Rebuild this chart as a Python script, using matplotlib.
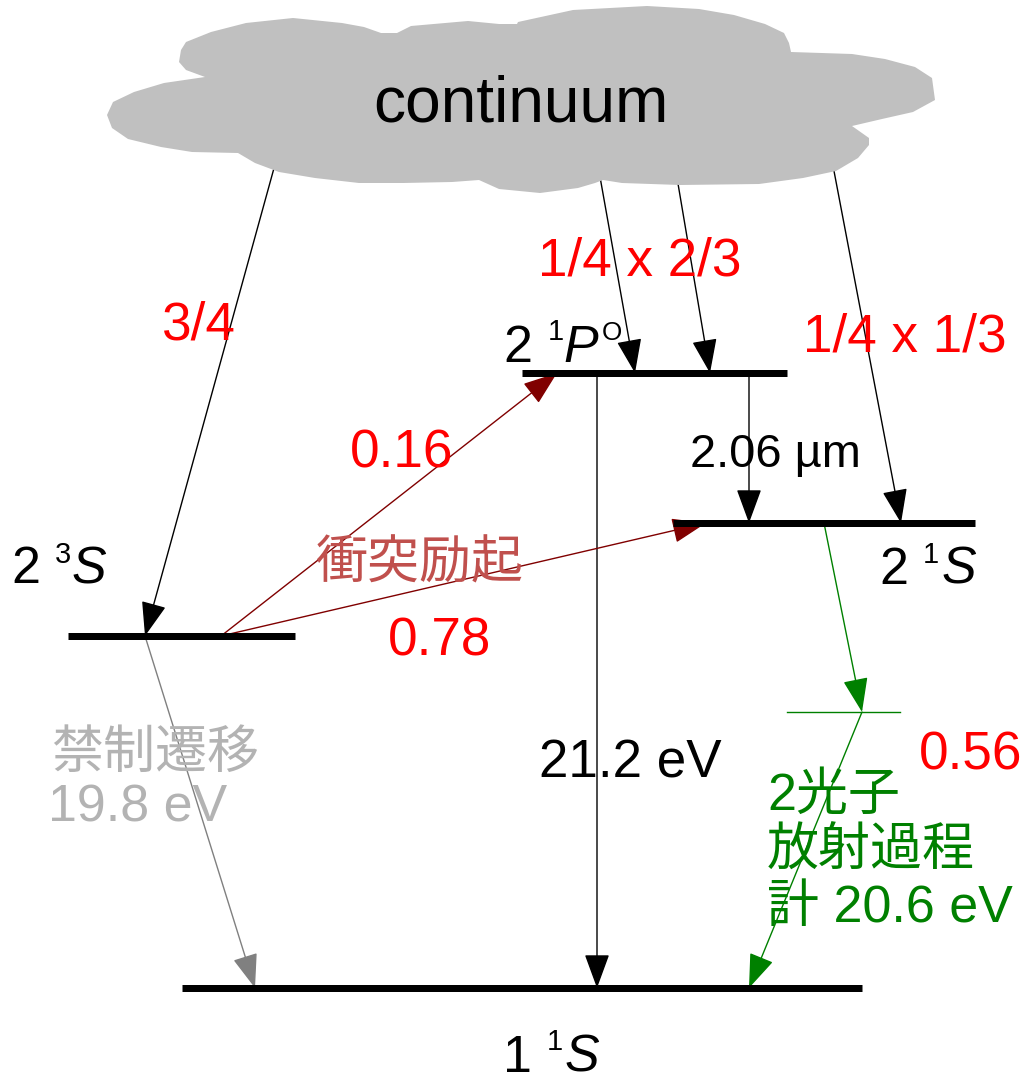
import matplotlib
matplotlib.use("Agg")
import matplotlib.pyplot as plt
from matplotlib.patches import Polygon

W, H, DPI = 1024, 1083, 100
PX = 72.0 / DPI  # points per pixel

LATIN = "Liberation Sans"
FAMILY = [LATIN, "Noto Sans CJK JP", "DejaVu Sans"]

# ---- energy levels (name, y, x-start, x-end) ----
level_keys = ["2_1P", "2_1S", "2_3S", "1_1S"]
level_y = [373, 523, 636, 988]
level_x0 = [522, 673, 68, 182]
level_x1 = [787, 975, 295, 862]
LV = {k: (y, a, b) for k, y, a, b in zip(level_keys, level_y, level_x0, level_x1)}

# virtual intermediate level of the two-photon decay
virtual_y = 712
virtual_x = (787, 900)

# ---- continuum cloud outline ----
cloud_x = [186, 211, 246, 293, 342, 364, 381, 397, 411, 468, 499, 517, 518, 573,
           647, 699, 734, 765, 784, 789, 791, 852, 885, 915, 932, 935, 913, 882,
           852, 869, 869, 858, 836, 803, 759, 680, 622, 603, 595, 578, 540, 499,
           479, 452, 403, 359, 315, 279, 255, 238, 192, 161, 128, 112, 107, 113,
           134, 164, 205, 186, 179, 181]
cloud_y = [42, 32, 23, 18, 23, 27, 33, 33, 26, 21, 24, 24, 22, 10,
           6, 9, 15, 24, 33, 43, 52, 54, 59, 67, 78, 100, 112, 119,
           126, 138, 145, 158, 171, 178, 184, 185, 183, 180, 183, 188, 193, 189,
           180, 182, 183, 183, 178, 172, 163, 153, 152, 147, 139, 128, 115, 102,
           92, 83, 77, 70, 62, 50]

# ---- transitions: (start x, start y, end x, end y, colour) ----
transitions = [
    (279, 150, 145, 636, "black"),     # continuum -> 2 3S
    (597, 160, 635, 373, "black"),     # continuum -> 2 1P
    (674, 160, 710, 373, "black"),     # continuum -> 2 1P
    (830, 150, 901, 523, "black"),     # continuum -> 2 1S
    (749, 373, 749, 523, "black"),     # 2 1P -> 2 1S (2.06 um)
    (597, 373, 597, 988, "black"),     # 2 1P -> 1 1S (21.2 eV)
    (145, 636, 255, 988, "#808080"),   # 2 3S -> 1 1S forbidden
    (221, 636, 557, 373, "#800000"),   # 2 3S -> 2 1P collisional
    (221, 636, 706, 523, "#800000"),   # 2 3S -> 2 1S collisional
    (824, 523, 862, virtual_y, "#008000"),  # 2 1S -> virtual
    (862, virtual_y, 749, 988, "#008000"),  # virtual -> 1 1S
]

# ---- labels: (text, x, baseline y, size px, colour) ----
labels = [
    ("continuum", 373, 122, 64, "black"),
    ("3/4", 162, 340, 53, "red"),
    ("1/4 x 2/3", 538, 276, 53, "red"),
    ("1/4 x 1/3", 803, 352, 53, "red"),
    ("0.16", 350, 468, 53, "red"),
    ("0.78", 388, 655, 53, "red"),
    ("0.56", 919, 770, 53, "red"),
    ("2.06 µm", 690, 467, 47, "black"),
    ("21.2 eV", 539, 778, 53, "black"),
    ("衝突励起", 315, 578, 52, "#c0504d"),
    ("禁制遷移", 51, 768, 52, "#b3b3b3"),
    ("19.8 eV", 48, 822, 52, "#b3b3b3"),
    ("2光子", 767, 810, 52, "#008000"),
    ("放射過程", 767, 866, 52, "#008000"),
    ("計 20.6 eV", 767, 922, 52, "#008000"),
]

# ---- term symbols: (text, x, baseline y, size px, italic) ----
term_parts = [
    ("2", 503, 362, 52, False), ("1", 548, 340, 29, False),
    ("P", 563, 362, 52, True), ("O", 602, 340, 26, False),
    ("2", 11, 583, 52, False), ("3", 55, 563, 29, False),
    ("S", 72, 583, 52, True),
    ("2", 879, 584, 52, False), ("1", 923, 563, 29, False),
    ("S", 942, 584, 52, True),
    ("1", 503, 1072, 52, False), ("1", 547, 1050, 29, False),
    ("S", 565, 1072, 52, True),
]

fig = plt.figure(figsize=(W / DPI, H / DPI), dpi=DPI)
ax = fig.add_axes([0, 0, 1, 1])
ax.set_xlim(0, W)
ax.set_ylim(H, 0)
ax.axis("off")

# transitions (drawn beneath the cloud so they emerge from its edge)
for x0, y0, x1, y1, c in transitions:
    ax.annotate("", xy=(x1, y1), xytext=(x0, y0),
                arrowprops=dict(arrowstyle="-|>,head_length=%.2f,head_width=%.2f"
                                % (30 * PX, 11 * PX),
                                color=c, lw=1.0, shrinkA=0, shrinkB=0,
                                mutation_scale=1),
                zorder=2)

ax.add_patch(Polygon(list(zip(cloud_x, cloud_y)), closed=True,
                     facecolor="#c0c0c0", edgecolor="none", zorder=3))

# energy levels
for k in level_keys:
    y, a, b = LV[k]
    ax.plot([a, b], [y, y], color="black", lw=7 * PX,
            solid_capstyle="butt", zorder=4)
ax.plot(list(virtual_x), [virtual_y, virtual_y], color="#008000", lw=1.0, zorder=4)

for txt, x, y, s, c in labels:
    ax.text(x, y, txt, fontsize=s * PX, color=c, family=FAMILY,
            ha="left", va="baseline", zorder=5)

for txt, x, y, s, it in term_parts:
    ax.text(x, y, txt, fontsize=s * PX, color="black", family=[LATIN],
            style="italic" if it else "normal",
            ha="left", va="baseline", zorder=5)

fig.savefig("out.png", dpi=DPI)
